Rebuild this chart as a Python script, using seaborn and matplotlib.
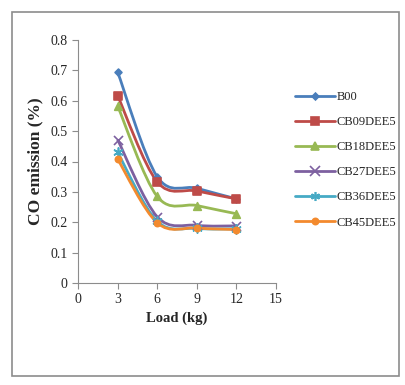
import numpy as np
import pandas as pd
import matplotlib
matplotlib.use("Agg")
import matplotlib.pyplot as plt
from matplotlib.path import Path
from matplotlib.patches import PathPatch, Rectangle
from matplotlib.lines import Line2D
import seaborn as sns

loads = [3, 6, 9, 12]
series_names = ["B00", "CB09DEE5", "CB18DEE5", "CB27DEE5", "CB36DEE5", "CB45DEE5"]
b00 = [0.695, 0.350, 0.312, 0.277]
cb09 = [0.617, 0.333, 0.303, 0.277]
cb18 = [0.583, 0.285, 0.255, 0.228]
cb27 = [0.472, 0.218, 0.190, 0.188]
cb36 = [0.430, 0.203, 0.180, 0.178]
cb45 = [0.408, 0.198, 0.181, 0.176]
values = [b00, cb09, cb18, cb27, cb36, cb45]

colors = ["#4A7EBB", "#BE4B48", "#98B954", "#7D60A0", "#46AAC5", "#F38A2E"]
markers = ["D", "s", "^", "x", (6, 2, 0), "o"]
msizes = [3.5, 5.5, 5.5, 6.5, 6.5, 4.5]

df = pd.DataFrame({
    "Load": np.tile(loads, len(series_names)),
    "CO": np.concatenate(values),
    "Series": np.repeat(series_names, len(loads)),
})

sns.set_style("white")
plt.rcParams["font.family"] = ["Liberation Serif", "DejaVu Serif"]

fig = plt.figure(figsize=(4.06, 3.85), dpi=100)
fig.patches.append(Rectangle((12/406, 1 - 376/385), (399-12)/406, (376-12)/385,
                             transform=fig.transFigure, fill=False,
                             edgecolor="#8c8c8c", linewidth=1.2))
ax = fig.add_axes([78/406, 1 - 283/385, (276-78)/406, (283-40)/385])


def smooth_path(xs, ys, t=0.5):
    xs = np.asarray(xs, float); ys = np.asarray(ys, float)
    n = len(xs)
    verts = [(xs[0], ys[0])]
    codes = [Path.MOVETO]
    for i in range(n - 1):
        p0 = np.array([xs[max(i-1, 0)], ys[max(i-1, 0)]])
        p1 = np.array([xs[i], ys[i]])
        p2 = np.array([xs[i+1], ys[i+1]])
        p3 = np.array([xs[min(i+2, n-1)], ys[min(i+2, n-1)]])
        c1 = p1 + (p2 - p0) * t / 3
        c2 = p2 - (p3 - p1) * t / 3
        verts += [tuple(c1), tuple(c2), tuple(p2)]
        codes += [Path.CURVE4] * 3
    return Path(verts, codes)


handles = []
for name, col, mk, ms in zip(series_names, colors, markers, msizes):
    sub = df[df["Series"] == name]
    ax.add_patch(PathPatch(smooth_path(sub["Load"], sub["CO"]), fill=False,
                           edgecolor=col, linewidth=2.0, zorder=2))
    sns.scatterplot(data=sub, x="Load", y="CO", marker=mk, s=ms**2,
                    color=col, edgecolor=col, linewidth=1.2, ax=ax, zorder=3,
                    legend=False)
    handles.append(Line2D([], [], color=col, linewidth=2.0, marker=mk,
                          markersize=ms, markeredgewidth=1.2, label=name))

ax.set_xlim(0, 15)
ax.set_ylim(0, 0.8)
ax.set_xticks([0, 3, 6, 9, 12, 15])
ax.set_yticks(np.arange(0, 0.81, 0.1))
ax.set_yticklabels(["0", "0.1", "0.2", "0.3", "0.4", "0.5", "0.6", "0.7", "0.8"])
for s in ["top", "right"]:
    ax.spines[s].set_visible(False)
for s in ["left", "bottom"]:
    ax.spines[s].set_color("#8c8c8c")
    ax.spines[s].set_linewidth(0.8)
ax.tick_params(axis="both", which="both", direction="out", length=4,
               color="#8c8c8c", labelsize=10, width=0.8)
ax.tick_params(axis="both", left=True, bottom=True)
ax.set_xlabel("Load (kg)", fontsize=10.5, fontweight="bold", labelpad=4)
ax.set_ylabel("CO emission (%)", fontsize=12.5, fontweight="bold", labelpad=5)

fig.legend(handles=handles, loc="upper left",
           bbox_to_anchor=(290/406, 1 - 86/385), frameon=False,
           fontsize=9, handlelength=3.2, handletextpad=0.1,
           labelspacing=1.05, borderaxespad=0)

fig.savefig("out.png", dpi=100)
